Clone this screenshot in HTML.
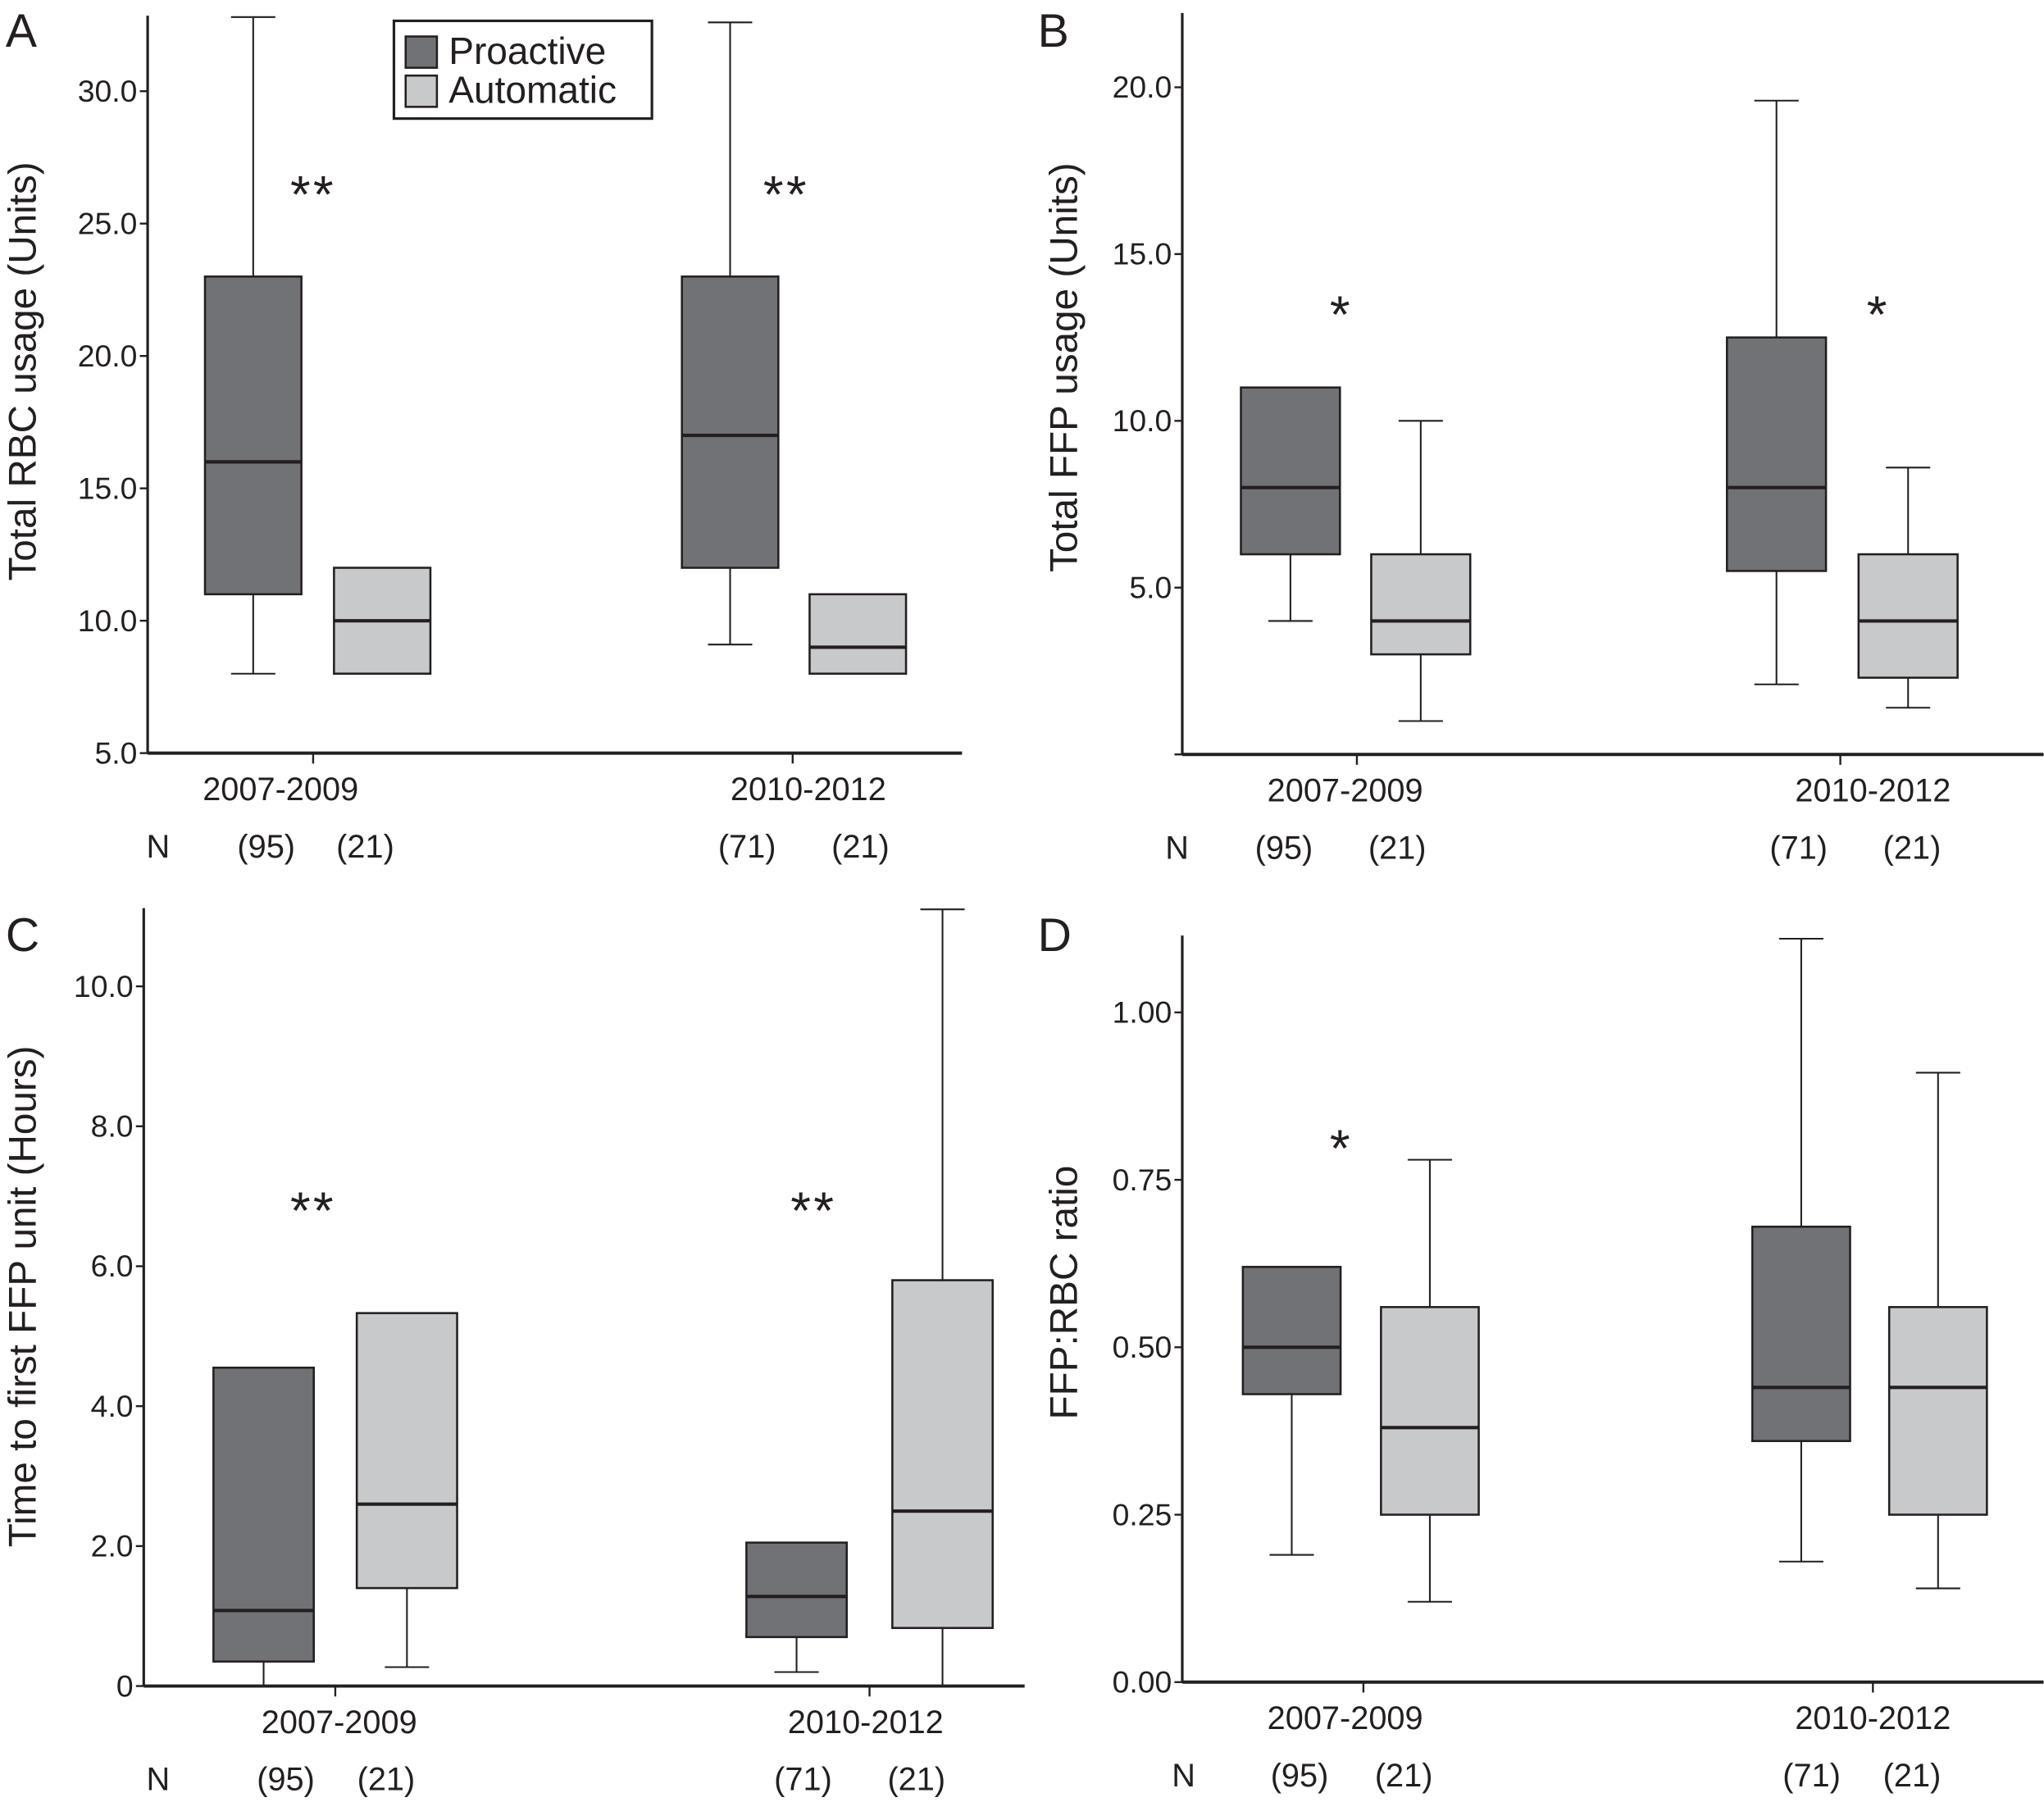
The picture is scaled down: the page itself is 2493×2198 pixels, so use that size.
<!DOCTYPE html>
<html><head><meta charset="utf-8"><style>
html,body{margin:0;padding:0;background:#fff}
svg{display:block}
text{font-family:"Liberation Sans",sans-serif;fill:#231f20}
</style></head><body>
<svg id="fig" width="2493" height="2198" viewBox="0 0 1568 1383" xmlns="http://www.w3.org/2000/svg"></svg>
<script>
// Panel data: [q1, median, q3, whiskerLow, whiskerHigh] per box; order: pro2007, auto2007, pro2010, auto2010
const categories = ["2007-2009","2010-2012"];
const seriesNames = ["Proactive","Automatic"];
const nCounts = ["(95)","(21)","(71)","(21)"];
const rbcBoxes = [[11,16,23,8,32.8],[8,10,12,8,12],[12,17,23,9.1,32.6],[8,9,11,8,11]];
const rbcTicks = [5,10,15,20,25,30];
const rbcTickLabels = ["5.0","10.0","15.0","20.0","25.0","30.0"];
const ffpBoxes = [[6,8,11,4,11],[3,4,6,1,10],[5.5,8,12.5,2.1,19.6],[2.3,4,6,1.4,8.6]];
const ffpTicks = [0,5,10,15,20];
const ffpTickLabels = ["","5.0","10.0","15.0","20.0"];
const timeBoxes = [[0.35,1.08,4.55,0,4.55],[1.4,2.6,5.33,0.27,5.33],[0.7,1.28,2.05,0.2,2.05],[0.83,2.5,5.8,0,11.1]];
const timeTicks = [0,2,4,6,8,10];
const timeTickLabels = ["0","2.0","4.0","6.0","8.0","10.0"];
const ratioBoxes = [[0.43,0.50,0.62,0.19,0.62],[0.25,0.38,0.56,0.12,0.78],[0.36,0.44,0.68,0.18,1.11],[0.25,0.44,0.56,0.14,0.91]];
const ratioTicks = [0,0.25,0.5,0.75,1.0];
const ratioTickLabels = ["0.00","0.25","0.50","0.75","1.00"];

const NS="http://www.w3.org/2000/svg";
const svg=document.getElementById('fig');
function mk(tag,attrs,parent,txt){const e=document.createElementNS(NS,tag);for(const k in attrs)e.setAttribute(k,attrs[k]);if(txt!==undefined)e.textContent=txt;(parent||svg).appendChild(e);return e;}
const COLORS=["#717276","#c8c9cb"];

function panel(cfg){
  const g=mk('g',{});
  
  
  const y=v=>cfg.y0+(v-cfg.v0)*(cfg.y1-cfg.y0)/(cfg.v1-cfg.v0);
  const L=mk('text',{x:cfg.lx,y:cfg.ly,'font-size':36},g,cfg.letter);
  
  const ya=mk('line',{x1:cfg.ax,y1:cfg.top,x2:cfg.ax,y2:cfg.y0,stroke:'#231f20','stroke-width':2},g);
  
  const xa=mk('line',{x1:cfg.ax,y1:cfg.y0,x2:cfg.axEnd,y2:cfg.y0,stroke:'#231f20','stroke-width':2.5},g);
  
  cfg.ticks.forEach((t,i)=>{
    mk('line',{x1:cfg.ax-6,y1:y(t),x2:cfg.ax,y2:y(t),stroke:'#231f20','stroke-width':1.5},g);
    const tl=mk('text',{x:cfg.ax-8,y:y(t)+8,'font-size':23.5,'text-anchor':'end'},g,cfg.tickLabels[i]);
    
  });
  const yt=mk('text',{x:0,y:0,'font-size':30,'text-anchor':'middle',transform:`translate(${cfg.tx},${cfg.ty}) rotate(-90)`},g,cfg.title);
  
  categories.forEach((c,i)=>{
    mk('line',{x1:cfg.catX[i],y1:cfg.y0,x2:cfg.catX[i],y2:cfg.y0+8,stroke:'#231f20','stroke-width':1.5},g);
    const cl=mk('text',{x:cfg.catLX[i],y:cfg.y0+36,'font-size':25,'text-anchor':'middle'},g,c);
    
  });
  const nl=mk('text',{x:cfg.nX[0],y:cfg.y0+80,'font-size':25,'text-anchor':'middle'},g,'N');
  
  nCounts.forEach((n,i)=>{
    const t=mk('text',{x:cfg.nX[i+1],y:cfg.y0+80,'font-size':25,'text-anchor':'middle'},g,n);
    
  });
  cfg.boxes.forEach((b,i)=>{
    const [q1,med,q3,wl,wh]=b;const cx=cfg.boxX[i];const hw=cfg.bw/2;
    const bg=mk('g',{},g);
    
    
    if(wh>q3+1e-9){mk('line',{x1:cx,y1:y(q3),x2:cx,y2:y(wh),stroke:'#231f20','stroke-width':1.3},bg);
      mk('line',{x1:cx-17,y1:y(wh),x2:cx+17,y2:y(wh),stroke:'#231f20','stroke-width':1.3},bg);}
    if(wl<q1-1e-9){mk('line',{x1:cx,y1:y(q1),x2:cx,y2:y(wl),stroke:'#231f20','stroke-width':1.3},bg);
      if(wl>cfg.v0+1e-9)mk('line',{x1:cx-17,y1:y(wl),x2:cx+17,y2:y(wl),stroke:'#231f20','stroke-width':1.3},bg);}
    mk('rect',{x:cx-hw,y:y(q3),width:cfg.bw,height:y(q1)-y(q3),fill:COLORS[i%2],stroke:'#231f20','stroke-width':1.6},bg);
    mk('line',{x1:cx-hw,y1:y(med),x2:cx+hw,y2:y(med),stroke:'#231f20','stroke-width':2.6},bg);
  });
  cfg.stars.forEach(s=>{
    const st=mk('text',{x:s[0],y:s[1]+18,'font-size':40,'text-anchor':'middle','letter-spacing':'2','font-family':'"Liberation Serif",serif'},g,s[2]);
    
  });
}

panel({name:'panel-a-rbc',letter:'A',lx:4,ly:36,ax:113,axEnd:738,top:12,y0:578,y1:70,v0:5,v1:30,
  ticks:rbcTicks,tickLabels:rbcTickLabels,title:'Total RBC usage (Units)',tx:27,ty:285,
  catX:[240,608],catLX:[215,620],nX:[121,204,280,573,660],boxes:rbcBoxes,boxX:[194,293,560,658],bw:74,
  stars:[[240,145,'**'],[603,145,'**']]});
panel({name:'panel-b-ffp',letter:'B',lx:796,ly:36,ax:907,axEnd:1568,top:10,y0:579,y1:67,v0:0,v1:20,
  ticks:ffpTicks,tickLabels:ffpTickLabels,title:'Total FFP usage (Units)',tx:826,ty:282,
  catX:[1041,1412],catLX:[1032,1437],nX:[903,985,1072,1380,1467],boxes:ffpBoxes,boxX:[990,1090,1363,1464],bw:76,
  stars:[[1029,237,'*'],[1441,237,'*']]});
panel({name:'panel-c-time',letter:'C',lx:4,ly:730,ax:110,axEnd:786,top:697,y0:1294,y1:757,v0:0,v1:10,
  ticks:timeTicks,tickLabels:timeTickLabels,title:'Time to first FFP unit (Hours)',tx:27,ty:995,
  catX:[257,667],catLX:[260,664],nX:[121,219,296,616,703],boxes:timeBoxes,boxX:[202,312,611,723],bw:77,
  stars:[[240,925,'**'],[624,925,'**']]});
panel({name:'panel-d-ratio',letter:'D',lx:796,ly:730,ax:907,axEnd:1568,top:718,y0:1291,y1:777,v0:0,v1:1,
  ticks:ratioTicks,tickLabels:ratioTickLabels,title:'FFP:RBC ratio',tx:826,ty:992,
  catX:[1046,1437],catLX:[1032,1437],nX:[908,997,1077,1390,1467],boxes:ratioBoxes,boxX:[991,1097,1382,1487],bw:75,
  stars:[[1029,877,'*']]});

const lg=mk('g',{});


mk('rect',{x:302,y:16,width:198,height:75,fill:'#fff',stroke:'#231f20','stroke-width':2},lg);
seriesNames.forEach((s,i)=>{
  const e=mk('g',{},lg);
  
  
  mk('rect',{x:311,y:28+i*30,width:24,height:24,fill:COLORS[i],stroke:'#231f20','stroke-width':1.6},e);
  mk('text',{x:344,y:49+i*30,'font-size':29},e,s);
});
</script>
</body></html>
